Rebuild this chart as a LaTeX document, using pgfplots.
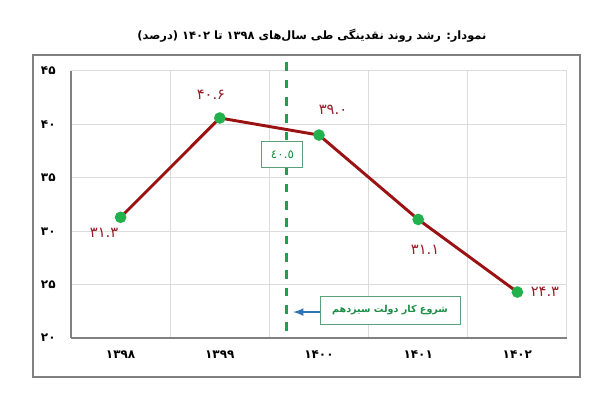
\documentclass[border=0pt]{standalone}
\usepackage{fontspec}
\usepackage{pgfplots}
\pgfplotsset{compat=1.18}
\TeXXeTstate=1
\newfontfamily\fa[Script=Arabic]{DejaVu Sans}
\definecolor{lineRed}{RGB}{155,18,18}
\definecolor{markGreen}{RGB}{34,177,76}
\definecolor{dashGreen}{RGB}{30,160,80}
\definecolor{lblRed}{RGB}{150,30,40}
\definecolor{gridGray}{RGB}{220,220,220}
\definecolor{axGray}{RGB}{128,128,128}
\definecolor{boxGreen}{RGB}{90,160,120}
\definecolor{txtGreen}{RGB}{30,140,70}
\definecolor{arrBlue}{RGB}{46,117,182}
\begin{document}
\begin{tikzpicture}
\path[use as bounding box] (-53.25pt,-48.75pt) rectangle (396.75pt,253.5pt);
\draw[axGray, line width=1.1pt] (-28.5pt,-29.25pt) rectangle (381.75pt,212.25pt);
\node[font=\fa\bfseries\fontsize{8.6}{11}\selectfont] at (180.75pt,226.5pt) {\beginR نمودار: رشد روند نقدینگی طی سال‌های ۱۳۹۸ تا ۱۴۰۲ (درصد)\endR};
\begin{axis}[at={(0,0)}, anchor=south west, scale only axis,
  width=372pt, height=200.25pt,
  xmin=-0.5, xmax=4.5, ymin=20, ymax=45,
  xtick={0,1,2,3,4}, xticklabels={۱۳۹۸,۱۳۹۹,۱۴۰۰,۱۴۰۱,۱۴۰۲},
  minor xtick={-0.5,0.5,1.5,2.5,3.5,4.5},
  ytick={20,25,30,35,40,45}, yticklabels={۲۰,۲۵,۳۰,۳۵,۴۰,۴۵},
  major tick length=0, minor tick length=0,
  ymajorgrids, xminorgrids,
  grid style={gridGray, line width=0.75pt},
  minor grid style={gridGray, line width=0.75pt},
  axis x line*=bottom, axis y line*=left,
  axis line style={axGray, line width=1.1pt, -},
  tick label style={font=\fa\bfseries\fontsize{9}{10}\selectfont},
  yticklabel style={xshift=-8pt},
  xticklabel style={yshift=-6pt},
  clip=false,
]
\addplot[dashGreen, line width=2.2pt, dash pattern=on 6.5pt off 6.5pt] coordinates {(1.677,45.8) (1.677,20)};
\addplot[lineRed, line width=2.2pt, mark=*, mark size=3.2pt,
  mark options={draw=markGreen, fill=markGreen, solid}]
  coordinates {(0,31.3) (1,40.6) (2,39.0) (3,31.1) (4,24.3)};
\node[draw=boxGreen, line width=0.75pt, fill=white, minimum width=30.75pt, minimum height=20pt,
  inner sep=1pt, text=txtGreen, font=\fa\fontsize{9}{10}\selectfont] at (axis cs:1.632,37.18) {٤٠.٥};
\addplot[arrBlue, line width=1.6pt, -latex] coordinates {(2.01,22.43) (1.74,22.43)};
\node[draw=boxGreen, line width=0.75pt, fill=white, minimum width=105pt, minimum height=21pt,
  inner sep=1pt, text=txtGreen, font=\fa\bfseries\fontsize{7.2}{10}\selectfont] at (axis cs:2.716,22.62) {\beginR شروع کار دولت سیزدهم\endR};
\begin{scope}[every node/.style={text=lblRed, font=\fa\fontsize{11}{13}\selectfont}]
\node at (axis cs:-0.167,29.83) {۳۱.۳};
\node at (axis cs:0.911,42.75) {۴۰.۶};
\node at (axis cs:2.141,41.35) {۳۹.۰};
\node at (axis cs:3.069,28.24) {۳۱.۱};
\node at (axis cs:4.278,24.31) {۲۴.۳};
\end{scope}
\end{axis}
\end{tikzpicture}
\end{document}
